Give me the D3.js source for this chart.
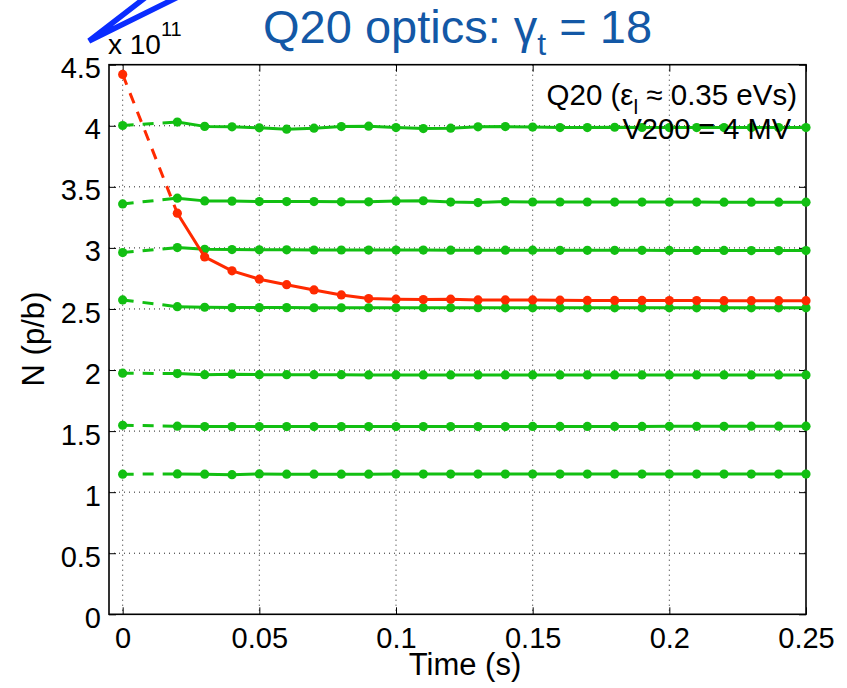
<!DOCTYPE html>
<html><head><meta charset="utf-8">
<script src="https://cdn.jsdelivr.net/npm/d3@7"></script>
<style>
body{margin:0;background:#fff;}
text{font-family:"Liberation Sans",Arial,Helvetica,sans-serif;}
</style></head>
<body><svg id="c" width="847" height="688"></svg>
<script>
const times = [0, 0.02, 0.03, 0.04, 0.05, 0.06, 0.07, 0.08, 0.09, 0.10, 0.11, 0.12, 0.13, 0.14, 0.15, 0.16, 0.17, 0.18, 0.19, 0.20, 0.21, 0.22, 0.23, 0.24, 0.25];
const redSeries = [4.42, 3.284, 2.926, 2.812, 2.744, 2.699, 2.656, 2.615, 2.585, 2.580, 2.577, 2.580, 2.574, 2.574, 2.574, 2.572, 2.570, 2.570, 2.570, 2.569, 2.569, 2.568, 2.568, 2.568, 2.568];
const green1 = [4.002, 4.030, 3.995, 3.991, 3.983, 3.972, 3.980, 3.993, 3.997, 3.985, 3.977, 3.980, 3.991, 3.993, 3.989, 3.985, 3.985, 3.988, 3.986, 3.985, 3.985, 3.985, 3.985, 3.985, 3.985];
const green2 = [3.360, 3.407, 3.385, 3.383, 3.379, 3.379, 3.379, 3.377, 3.377, 3.385, 3.386, 3.375, 3.371, 3.379, 3.376, 3.376, 3.376, 3.375, 3.375, 3.375, 3.375, 3.374, 3.374, 3.374, 3.374];
const green3 = [2.962, 3.003, 2.989, 2.986, 2.984, 2.984, 2.983, 2.983, 2.982, 2.982, 2.982, 2.981, 2.981, 2.981, 2.981, 2.980, 2.980, 2.980, 2.980, 2.979, 2.979, 2.979, 2.978, 2.978, 2.978];
const green4 = [2.574, 2.519, 2.514, 2.511, 2.511, 2.511, 2.510, 2.510, 2.510, 2.510, 2.510, 2.510, 2.510, 2.509, 2.509, 2.509, 2.509, 2.509, 2.509, 2.509, 2.509, 2.509, 2.509, 2.509, 2.509];
const green5 = [1.974, 1.971, 1.962, 1.966, 1.962, 1.962, 1.962, 1.962, 1.960, 1.960, 1.960, 1.960, 1.960, 1.960, 1.960, 1.960, 1.960, 1.960, 1.960, 1.960, 1.960, 1.960, 1.960, 1.960, 1.960];
const green6 = [1.548, 1.540, 1.537, 1.537, 1.537, 1.537, 1.537, 1.537, 1.537, 1.537, 1.537, 1.537, 1.537, 1.537, 1.538, 1.538, 1.538, 1.538, 1.538, 1.539, 1.539, 1.539, 1.540, 1.540, 1.540];
const green7 = [1.147, 1.149, 1.147, 1.143, 1.149, 1.147, 1.147, 1.147, 1.147, 1.148, 1.148, 1.148, 1.148, 1.148, 1.148, 1.148, 1.148, 1.148, 1.148, 1.148, 1.148, 1.148, 1.148, 1.148, 1.148];
const xTicks = [0, 0.05, 0.1, 0.15, 0.2, 0.25];
const xTickLabels = ["0", "0.05", "0.1", "0.15", "0.2", "0.25"];
const yTicks = [0, 0.5, 1, 1.5, 2, 2.5, 3, 3.5, 4, 4.5];
const yTickLabels = ["0", "0.5", "1", "1.5", "2", "2.5", "3", "3.5", "4", "4.5"];

const GREEN = "#12bf12", RED = "#ff2a00";
const series = [
  {v: green7, c: GREEN}, {v: green6, c: GREEN}, {v: green5, c: GREEN}, {v: green4, c: GREEN},
  {v: green3, c: GREEN}, {v: green2, c: GREEN}, {v: green1, c: GREEN}, {v: redSeries, c: RED}
];

const L = 109, R = 806, T = 64.7, B = 614.3;
const x = d3.scaleLinear().domain([-0.005, 0.25]).range([L, R]);
const y = d3.scaleLinear().domain([0, 4.5]).range([B, T]);
const svg = d3.select("#c");

// blue decoration stroke
svg.append("path").attr("d", "M146,-3 L89,41 L178,-3").attr("fill", "none")
  .attr("stroke", "#0a2cff").attr("stroke-width", 5.5).attr("stroke-linejoin", "miter");

// grid
const grid = svg.append("g");
grid.selectAll("line.gx").data(xTicks.filter(t => t < 0.25)).join("line")
  .attr("x1", d => x(d)).attr("x2", d => x(d)).attr("y1", T).attr("y2", B)
  .attr("stroke", "#222").attr("stroke-width", 1).attr("stroke-dasharray", "1,4");
grid.selectAll("line.gy").data(yTicks.filter(t => t > 0 && t < 4.5)).join("line")
  .attr("x1", L).attr("x2", R).attr("y1", d => y(d)).attr("y2", d => y(d))
  .attr("stroke", "#222").attr("stroke-width", 1).attr("stroke-dasharray", "1,4");

// axes with inward ticks
const fs = 29;
const ax = svg.append("g").attr("transform", `translate(0,${B})`)
  .call(d3.axisBottom(x).tickValues(xTicks).tickFormat((d, i) => xTickLabels[i]).tickSize(-7).tickPadding(13));
ax.select(".domain").remove();
ax.selectAll("text").attr("font-size", fs).attr("fill", "#000").attr("font-family", "Liberation Sans, Arial, sans-serif");
ax.selectAll("line").attr("stroke", "#000");
const axT = svg.append("g").attr("transform", `translate(0,${T})`)
  .call(d3.axisTop(x).tickValues(xTicks).tickFormat("").tickSize(-7));
axT.select(".domain").remove();
const ay = svg.append("g").attr("transform", `translate(${L},0)`)
  .call(d3.axisLeft(y).tickValues(yTicks).tickFormat((d, i) => yTickLabels[i]).tickSize(-7).tickPadding(8));
ay.select(".domain").remove();
ay.selectAll("text").attr("font-size", fs).attr("fill", "#000").attr("dy", "0.45em").attr("font-family", "Liberation Sans, Arial, sans-serif");
const ayR = svg.append("g").attr("transform", `translate(${R},0)`)
  .call(d3.axisRight(y).tickValues(yTicks).tickFormat("").tickSize(-7));
ayR.select(".domain").remove();

svg.append("rect").attr("x", L).attr("y", T).attr("width", R - L).attr("height", B - T)
  .attr("fill", "none").attr("stroke", "#000").attr("stroke-width", 1.6);

// data
const line = d3.line().x(d => x(d[0])).y(d => y(d[1]));
const gData = svg.append("g");
series.forEach(s => {
  const pts = times.map((t, i) => [t, s.v[i]]);
  gData.append("path").attr("d", line(pts.slice(0, 2))).attr("fill", "none")
    .attr("stroke", s.c).attr("stroke-width", 3).attr("stroke-dasharray", "11,9");
  gData.append("path").attr("d", line(pts.slice(1))).attr("fill", "none")
    .attr("stroke", s.c).attr("stroke-width", 3).attr("stroke-linejoin", "round");
  gData.selectAll(null).data(pts).join("circle")
    .attr("cx", d => x(d[0])).attr("cy", d => y(d[1])).attr("r", 4.6).attr("fill", s.c);
});

// title
const title = svg.append("text").attr("x", 263).attr("y", 43).attr("font-size", 47).attr("fill", "#1358a6");
title.append("tspan").text("Q20 optics: γ");
title.append("tspan").attr("font-size", 32).attr("dy", 12).text("t");
title.append("tspan").attr("dy", -12).text(" = 18");

// exponent
const ex = svg.append("text").attr("x", 108).attr("y", 54).attr("font-size", 28).attr("fill", "#000");
ex.append("tspan").text("x 10");
ex.append("tspan").attr("font-size", 20).attr("dy", -18).text("11");

// annotation
const a1 = svg.append("text").attr("x", 797).attr("y", 105).attr("font-size", 29.5).attr("text-anchor", "end").attr("fill", "#000");
a1.append("tspan").text("Q20 (ε");
a1.append("tspan").attr("font-size", 21).attr("dy", 9).text("l");
a1.append("tspan").attr("dy", -9).text(" ≈ 0.35 eVs)");
svg.append("text").attr("x", 791).attr("y", 139).attr("font-size", 29).attr("text-anchor", "end").attr("fill", "#000").text("V200 = 4 MV");

// axis labels
svg.append("text").attr("x", 465).attr("y", 675).attr("font-size", 31).attr("text-anchor", "middle").attr("fill", "#000").text("Time (s)");
svg.append("text").attr("transform", "translate(44,339) rotate(-90)").attr("font-size", 31).attr("text-anchor", "middle").attr("fill", "#000").text("N (p/b)");
</script></body></html>
